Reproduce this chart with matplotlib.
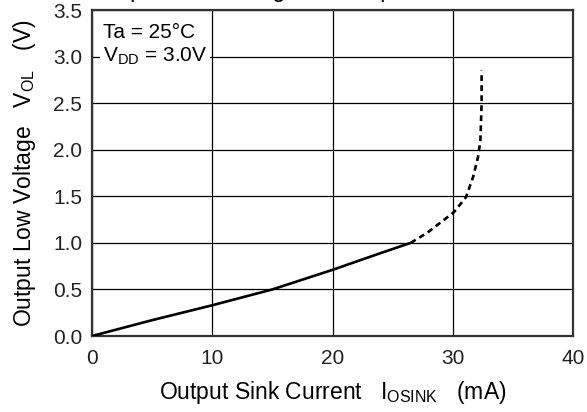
import matplotlib
matplotlib.use('Agg')
import matplotlib.pyplot as plt

plt.rcParams['font.family'] = ['Liberation Sans', 'DejaVu Sans']
plt.rcParams['mathtext.default'] = 'regular'

# measured curve (solid part)
i_solid = [0, 5, 10, 15, 20, 24, 26.5]
v_solid = [0, 0.17, 0.33, 0.50, 0.71, 0.89, 1.0]
# extrapolated part (dashed)
i_dash = [26.5, 27.9, 29.3, 30.1, 31.1, 31.7, 32.1, 32.3, 32.4, 32.4]
v_dash = [1.0, 1.11, 1.25, 1.33, 1.49, 1.71, 1.92, 2.1, 2.5, 2.85]

x_ticks = [0, 10, 20, 30, 40]
y_ticks = [0.0, 0.5, 1.0, 1.5, 2.0, 2.5, 3.0, 3.5]

fig = plt.figure(figsize=(5.87, 4.12), dpi=100)
ax = fig.add_axes([92/587, 1-336/412, 481/587, 326/412])

ax.plot(i_solid, v_solid, color='black', lw=1.9, solid_capstyle='butt', zorder=3)
ax.plot(i_dash, v_dash, color='black', lw=1.9, dashes=(2.2, 1.6), zorder=3)

ax.set_xlim(0, 40)
ax.set_ylim(0, 3.5)
ax.set_xticks(x_ticks)
ax.set_yticks(y_ticks)
ax.set_xticklabels([str(t) for t in x_ticks])
ax.set_yticklabels(['%.1f' % t for t in y_ticks])
ax.tick_params(length=0, labelsize=15, colors='#222222')
ax.tick_params(axis='x', pad=9)
ax.tick_params(axis='y', pad=7)
ax.grid(True, color='black', lw=0.9)
for s in ax.spines.values():
    s.set_linewidth(1.6)
    s.set_color('#333333')

ax.set_xlabel('Output Sink Current   $I_{OSINK}$   (mA)', fontsize=16.5, labelpad=8)
ax.set_ylabel('Output Low Voltage   $V_{OL}$   (V)', fontsize=16.5, labelpad=11)

ax.text(0.9, 3.36, 'Ta = 25°C\n$V_{DD}$ = 3.0V', fontsize=15, va='top', ha='left',
        linespacing=1.2, zorder=4,
        bbox=dict(facecolor='white', edgecolor='none', pad=2))

# title cut off at the top of the image
fig.text(322/587, 1 + 2.5/412, 'Output Low Voltage vs. Output Sink Current',
         fontsize=17, ha='center', va='baseline')

fig.savefig('out.png', dpi=100)
